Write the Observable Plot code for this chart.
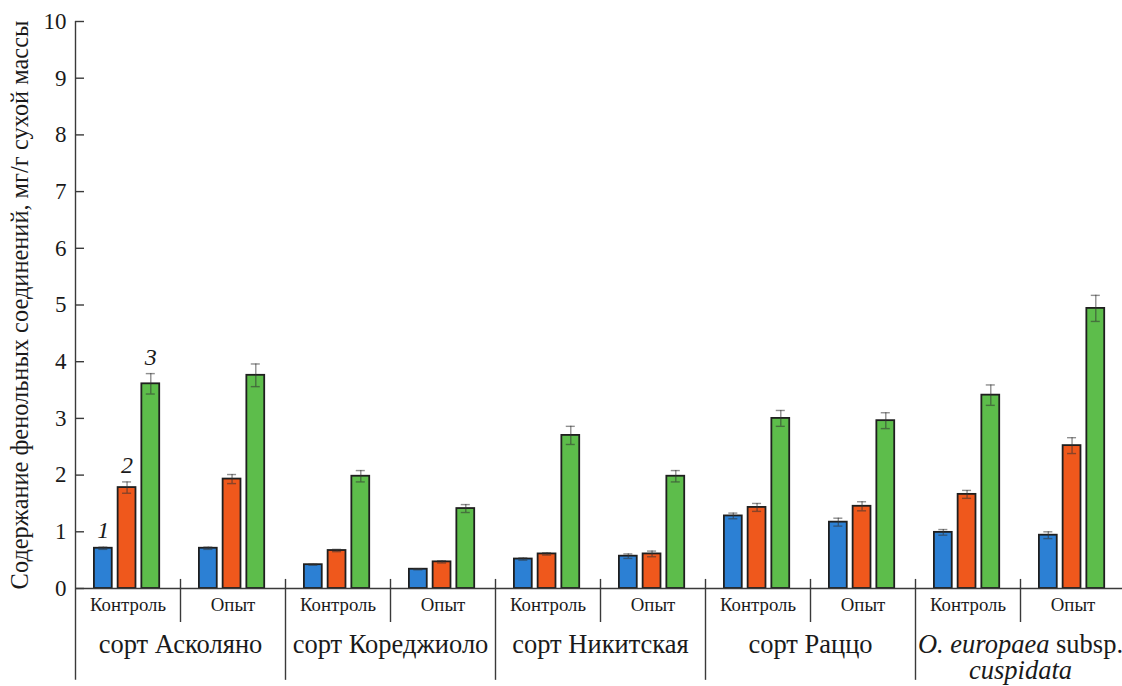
<!DOCTYPE html>
<html>
<head>
<meta charset="utf-8">
<script src="https://cdn.jsdelivr.net/npm/d3@7"></script>
<script src="https://cdn.jsdelivr.net/npm/@observablehq/plot@0.6"></script>
<style>
  html, body { margin: 0; padding: 0; background: #fff; }
  #chart svg { display: block; }
</style>
</head>
<body>
<div id="chart"></div>
<script>
// Phenolic compounds content by cultivar and treatment (mg/g dry weight)
const groups = ["сорт Асколяно", "сорт Кореджиоло", "сорт Никитская", "сорт Раццо", "O. europaea subsp.\ncuspidata"];
const conditions = ["Контроль", "Опыт"];
const series = ["1", "2", "3"];
const seriesColors = ["#2c80d4", "#ef581c", "#5dbd4b"];

// one value per group × condition (Контроль, Опыт for each group in order)
const s1 = [0.71, 0.71, 0.42, 0.34, 0.52, 0.57, 1.28, 1.17, 0.99, 0.94];
const s2 = [1.78, 1.93, 0.67, 0.47, 0.61, 0.61, 1.43, 1.45, 1.66, 2.52];
const s3 = [3.61, 3.76, 1.98, 1.41, 2.70, 1.98, 3.00, 2.96, 3.41, 4.94];
const e1 = [0.02, 0.02, 0.01, 0.01, 0.02, 0.04, 0.05, 0.07, 0.05, 0.06];
const e2 = [0.10, 0.08, 0.02, 0.02, 0.02, 0.05, 0.07, 0.08, 0.07, 0.14];
const e3 = [0.18, 0.20, 0.10, 0.07, 0.16, 0.10, 0.14, 0.14, 0.18, 0.23];

const yTicks = [0, 1, 2, 3, 4, 5, 6, 7, 8, 9, 10];
const yTitle = "Содержание фенольных соединений, мг/г сухой массы";

// ---- table built from the arrays above ----
const seriesValues = [s1, s2, s3];
const seriesErrors = [e1, e2, e3];
const slots = [];
const rows = [];
groups.forEach((g, gi) => conditions.forEach((c, ci) => {
  const slot = gi * conditions.length + ci;
  slots.push({slot, group: g, condition: c});
  series.forEach((s, si) => {
    rows.push({group: g, condition: c, series: s, slot, si,
               value: seriesValues[si][slot], error: seriesErrors[si][slot]});
  });
}));

// bar layout inside each group × condition slot (x unit = one slot)
const BAR_START = 0.18, BAR_STEP = 0.226, BAR_W = 0.17, CAP = 0.043;
const left = d => d.slot + BAR_START + d.si * BAR_STEP;
const right = d => left(d) + BAR_W;
const mid = d => left(d) + BAR_W / 2;

// extents of the separators below the baseline (y units)
const SEP_TOP = 0.16, SEP_SHORT = -0.6, SEP_LONG = -1.62;

const axisColor = "#3a3a3a";
const serif = "Liberation Serif";

const chart = Plot.plot({
  width: 1122,
  height: 686,
  marginLeft: 75,
  marginRight: 0,
  marginTop: 21,
  marginBottom: 98,
  style: {background: "#fff", color: "#1a1a1a"},
  x: {domain: [0, slots.length], range: [75, 1125], axis: null},
  y: {domain: [0, 10], range: [588, 21], axis: null},
  color: {domain: series, range: seriesColors},
  marks: [
    // bars
    Plot.rect(rows, {x1: left, x2: right, y1: 0, y2: "value", fill: "series",
                     stroke: "#1f1f1f", strokeWidth: 1.8}),
    // error bars
    Plot.ruleX(rows, {x: mid, y1: d => d.value - d.error, y2: d => d.value + d.error,
                      stroke: "#333", strokeOpacity: 0.55, strokeWidth: 1.4}),
    Plot.ruleY(rows, {y: d => d.value + d.error, x1: d => mid(d) - CAP, x2: d => mid(d) + CAP,
                      stroke: "#333", strokeOpacity: 0.55, strokeWidth: 1.4}),
    Plot.ruleY(rows, {y: d => d.value - d.error, x1: d => mid(d) - CAP, x2: d => mid(d) + CAP,
                      stroke: "#333", strokeOpacity: 0.55, strokeWidth: 1.4}),
    // series numbers over the first cluster
    Plot.text(rows.filter(d => d.slot === 0), {x: mid, y: d => d.value + d.error, text: "series",
                      lineAnchor: "bottom", dy: -9, fontStyle: "italic", fontSize: 24}),
    // baseline and vertical axis line
    Plot.ruleY([0], {stroke: axisColor, strokeWidth: 1.4}),
    Plot.ruleX([0], {y1: 10, y2: SEP_LONG, stroke: axisColor, strokeWidth: 1.4}),
    // separators between conditions and between groups
    Plot.ruleX(slots.filter(d => d.slot > 0), {
      x: "slot", y1: SEP_TOP,
      y2: d => d.condition === conditions[0] ? SEP_LONG : SEP_SHORT,
      stroke: axisColor, strokeWidth: 1.4}),
    // condition labels
    Plot.text(slots, {x: d => d.slot + 0.5, y: -0.16, text: "condition",
                      lineAnchor: "top", fontSize: 18.8}),
    // group labels
    Plot.text(groups, {x: (d, i) => i * conditions.length + conditions.length / 2, y: -0.8,
                       text: d => d, lineAnchor: "top", fontSize: 26.5, lineHeight: 1.0}),
    // y axis ticks (pointing inward) and labels
    Plot.axisY(yTicks, {anchor: "left", tickSize: -9, tickPadding: 18, fontSize: 23,
                        stroke: axisColor, strokeWidth: 1.4, tickFormat: d => String(d), label: null}),
    // y axis title
    Plot.text([yTitle], {frameAnchor: "left", textAnchor: "middle", rotate: -90, dx: -55, fontSize: 24.4})
  ]
});

// serif typeface throughout the figure
const svg = d3.select(chart);
svg.attr("font-family", serif).style("font-family", serif);
svg.selectAll("g[aria-label$='text'], g[aria-label$='tick label'], text")
  .attr("font-family", serif).style("font-family", serif);

// italic species name in the last group label
svg.selectAll("tspan").each(function () {
  const t = d3.select(this);
  const txt = this.textContent;
  if (txt === "O. europaea subsp.") {
    t.text(null);
    t.append("tspan").attr("font-style", "italic").text("O. europaea");
    t.append("tspan").text(" subsp.");
  } else if (txt === "cuspidata") {
    t.attr("font-style", "italic");
  }
});

document.getElementById("chart").appendChild(chart);
</script>
</body>
</html>
